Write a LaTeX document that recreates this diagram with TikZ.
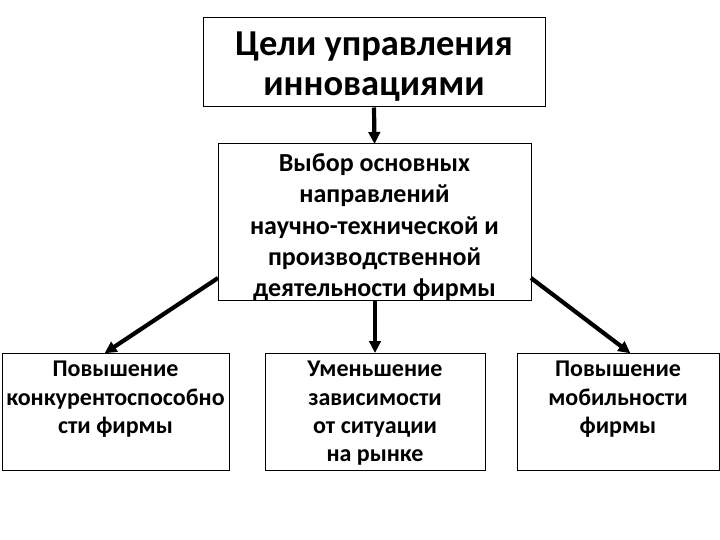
\documentclass[tikz,border=0pt]{standalone}
\usepackage{fontspec}
\setmainfont{Carlito}
\usetikzlibrary{arrows.meta}
\begin{document}
\begin{tikzpicture}[x=1pt,y=-1pt,
  box/.style={draw=black, line width=1pt, inner sep=0pt, fill=none},
  txt/.style={align=center, inner sep=0pt, anchor=base},
  arr/.style={line width=4.2pt, -{Triangle[length=12pt,width=11.5pt]}, shorten >=-0.5pt}]
\useasboundingbox (0,0) rectangle (720,540);
\fill[white] (0,0) rectangle (720,540);
% boxes
\node[box, minimum width=342pt, minimum height=89pt] (top) at (374,62.5) {};
\node[box, minimum width=313pt, minimum height=156pt] (mid) at (374.5,222) {};
\node[box, minimum width=227pt, minimum height=117pt] (bl) at (115.5,411.5) {};
\node[box, minimum width=220pt, minimum height=117pt] (bm) at (375,411.5) {};
\node[box, minimum width=202pt, minimum height=117pt] (br) at (618,411.5) {};
% texts (anchor = baseline of last line)
\node[txt, font=\bfseries\fontsize{36.5}{40}\selectfont] (ttop) at (374,96) {Цели управления\\инновациями};
\node[txt, font=\bfseries\fontsize{26}{31.3}\selectfont] (tmid) at (374.5,296.7) {Выбор основных\\направлений\\научно-технической и\\производственной\\деятельности фирмы};
\node[txt, font=\bfseries\fontsize{24}{28.3}\selectfont] (tbl) at (115.5,433.3) {Повышение\\конкурентоспособно\\сти фирмы};
\node[txt, font=\bfseries\fontsize{24}{28.3}\selectfont] (tbm) at (375,461.6) {Уменьшение\\зависимости\\от ситуации\\на рынке};
\node[txt, font=\bfseries\fontsize{24}{28.3}\selectfont] (tbr) at (618,433.3) {Повышение\\мобильности\\фирмы};
% connector ends
\coordinate (ml) at (218,278);
\coordinate (mr) at (531,278);
\coordinate (blt) at (105,353);
\coordinate (brt) at (630,353);
\draw[arr] (top.south) -- (mid.north);
\draw[arr] (mid.south -| bm.north) -- (bm.north);
\draw[arr] (ml) -- (blt);
\draw[arr] (mr) -- (brt);
\end{tikzpicture}
\end{document}
